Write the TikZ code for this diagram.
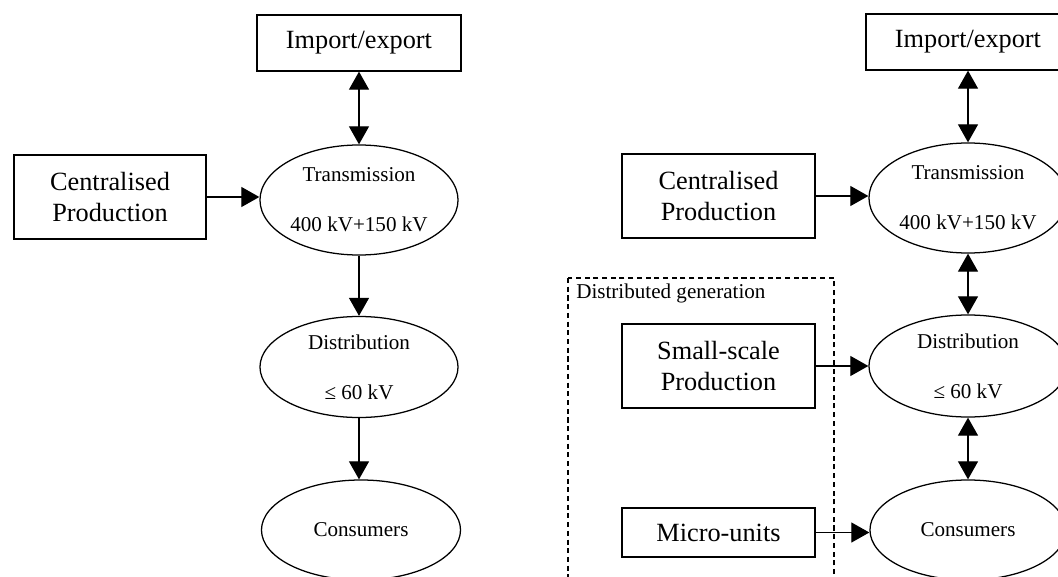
\documentclass[tikz,border=0pt]{standalone}
\usepackage{fontspec}
\setmainfont{Liberation Serif}
\usepackage{tikz}
\usetikzlibrary{arrows.meta,shapes.geometric}
\tikzset{
	block/.style={
		rectangle,
		draw=black,
		line width=0.9pt,
		align=center,
		inner sep=0pt,
		font=\fontsize{18.7}{22.7}\selectfont
	},
	level/.style={
		ellipse,
		draw=black,
		line width=0.9pt,
		align=center,
		inner sep=0pt,
		minimum width=4.95cm,
		font=\fontsize{15}{35.5}\selectfont
	},
	line/.style={-{Triangle[length=12.8pt,width=14.2pt]},line width=0.9pt},
	both/.style={{Triangle[length=12.8pt,width=14.2pt]}-{Triangle[length=12.8pt,width=14.2pt]},line width=0.9pt}
}

\begin{document}
\begin{tikzpicture}[x=0.025cm,y=-0.025cm,
			big/.style={block,minimum width=5.1cm,minimum height=1.4cm},
			prod/.style={block,minimum width=4.825cm,minimum height=2.1cm},
			group/.style={line width=0.9pt,dash pattern=on 3.6pt off 2.6pt},
			grplbl/.style={anchor=base west,inner sep=0pt,font=\fontsize{15}{18}\selectfont}]
		\useasboundingbox (0,0) rectangle (1058,577);

		% left: centralised system
		\node[big] (imp1) at (359,43) {Import/export};
		\node[prod,minimum width=4.8cm] (cen1) at (110,197) {Centralised\\Production};
		\node[level,minimum height=2.75cm] (tra1) at (359,200) {Transmission\\400 kV+150 kV};
		\node[level,minimum height=2.525cm] (dis1) at (359,367) {Distribution\\≤ 60 kV};
		\node[level,minimum height=2.5cm,minimum width=4.975cm] (con1) at (361,530) {Consumers};

		\draw[both] (imp1) -- (tra1);
		\draw[line] (cen1.east) -- (cen1.east -| tra1.west);
		\draw[line] (tra1) -- (dis1);
		\draw[line] (dis1) -- (con1.north -| dis1.south);

		% right: with distributed generation
		\node[big] (imp2) at (968,42) {Import/export};
		\node[prod] (cen2) at (718.5,196) {Centralised\\Production};
		\node[level,minimum height=2.75cm] (tra2) at (968,198) {Transmission\\400 kV+150 kV};
		\node[level,minimum height=2.55cm] (dis2) at (968,366) {Distribution\\≤ 60 kV};
		\node[level,minimum height=2.5cm,minimum width=4.9cm] (con2) at (968,530) {Consumers};

		\coordinate (dgnw) at (568,278);
		\coordinate (dgse) at (834,620);
		\draw[group] (dgnw) rectangle (dgse);
		\node[grplbl] (dglbl) at (576,298) {Distributed generation};
		\node[prod] (sma2) at (718.5,366) {Small-scale\\Production};
		\node[prod,minimum height=1.225cm] (mic2) at (718.5,532.5) {Micro-units};

		\draw[both] (imp2) -- (tra2);
		\draw[line] (cen2.east) -- (cen2.east -| tra2.west);
		\draw[both] (tra2) -- (dis2);
		\draw[both] (dis2) -- (con2);
		\draw[line] (sma2.east) -- (sma2.east -| dis2.west);
		\draw[line] (mic2.east) -- (mic2.east -| con2.west);
	\end{tikzpicture}
\end{document}
